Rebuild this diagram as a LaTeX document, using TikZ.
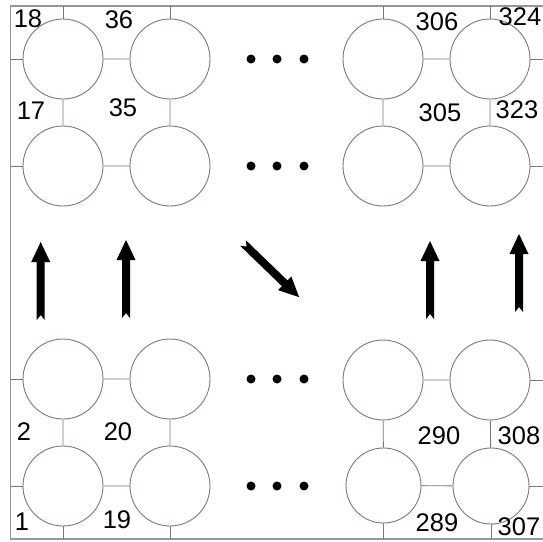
\documentclass[tikz,border=0pt]{standalone}
\usepackage{fontspec}
\setmainfont{Liberation Sans}
\usetikzlibrary{positioning}
\definecolor{ringgray}{RGB}{130,118,118}
\definecolor{wiregray}{RGB}{120,120,120}
\definecolor{framegray}{RGB}{150,150,150}

\begin{document}
\begin{tikzpicture}[x=1pt, y=-1pt,
  qb/.style={circle, draw=ringgray, line width=0.9pt, minimum size=80pt, inner sep=0pt},
  wire/.style={draw=wiregray, line width=0.9pt},
  num/.style={inner sep=0pt, font=\fontsize{25.5}{30}\selectfont},
  bigarrow/.pic={\fill (0,-4) -- (58,-4) -- (58,-9.5) -- (78,0) -- (58,9.5) -- (58,4) -- (0,4) -- (5,0) -- cycle;}]
	\useasboundingbox (0,0) rectangle (543,541);
	\coordinate (tl) at (10.5,6); \coordinate (tr) at (543,6); \coordinate (bl) at (10.5,539);
	\draw[framegray, line width=1.2pt] (tr) -- (tl) -- (bl) -- (bl -| tr);
	\foreach \n/\x/\y in {18/63/59, 36/170/59, 306/383/59, 324/490/59, 17/63/166, 35/170/166, 305/383/166, 323/490/166,
	  2/63/379, 20/170/379, 290/383/380, 308/490/380, 1/63/486, 19/170/486}
	  \node[qb] (n\n) at (\x,\y) {};
	\node[qb, minimum size=75pt] (n289) at (383.5,485.5) {};
	\node[qb, minimum size=76pt] (n307) at (491,486) {};
	% links inside each block
	\draw[wire] (n18) -- (n36) (n17) -- (n35) (n306) -- (n324) (n305) -- (n323)
	  (n2) -- (n20) (n1) -- (n19) (n290) -- (n308) (n289) -- (n307)
	  (n18) -- (n17) (n36) -- (n35) (n306) -- (n305) (n324) -- (n323)
	  (n2) -- (n1) (n20) -- (n19) (n290) -- (n289) (n308) -- (n307);
	% stubs out to the frame
	\foreach \n in {18,17,2,1} \draw[wire] (n\n) -- (n\n -| tl);
	\foreach \n in {324,323,308,307} \draw[wire] (n\n) -- (n\n -| tr);
	\foreach \n in {18,36,306,324} \draw[wire] (n\n) -- (n\n |- tl);
	\foreach \n in {1,19,289,307} \draw[wire] (n\n) -- (n\n |- bl);
	\foreach \x in {251,277,304} \foreach \y in {59,166,379,486} \fill (\x,\y) circle (4.5pt);
	\foreach \n/\x/\y in {18/28/19, 36/119/20, 17/31/111, 35/123/108, 306/437/22, 324/520/17, 305/440/113, 323/517/110,
	  2/24/432, 20/118/432, 1/22/522, 19/117/520, 290/439/436, 308/519/436, 289/437/523, 307/519/527}
	  \node[num] (l\n) at (\x,\y) {\n};
	\pic[rotate=90] at (40.7,320) {bigarrow};
	\pic[rotate=90] at (126,318) {bigarrow};
	\pic[rotate=-44] at (243,243) {bigarrow};
	\pic[rotate=90] at (430,319) {bigarrow};
	\pic[rotate=90] at (519,312) {bigarrow};
\end{tikzpicture}
\end{document}
